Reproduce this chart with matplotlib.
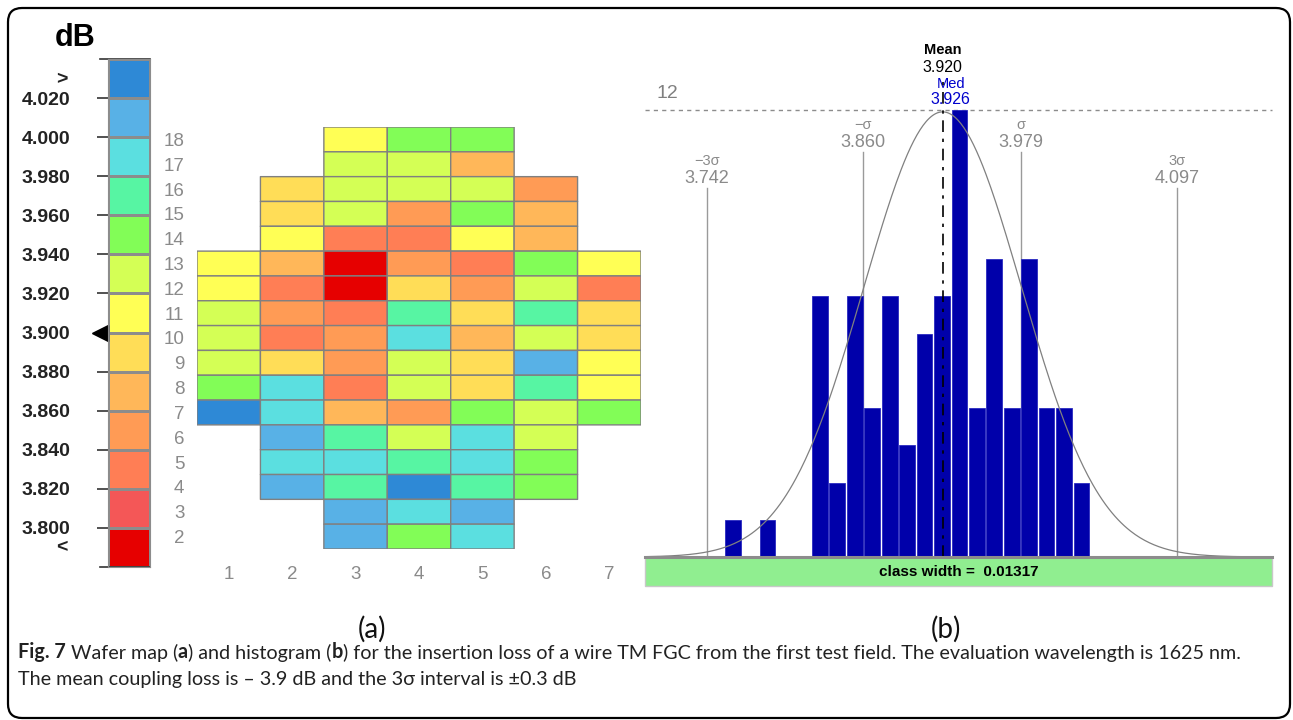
import numpy as np
import matplotlib
matplotlib.use("Agg")
import matplotlib.pyplot as plt
from matplotlib.colors import ListedColormap, BoundaryNorm
from matplotlib.patches import Rectangle, FancyBboxPatch
from matplotlib.transforms import IdentityTransform, blended_transform_factory

plt.rcParams['font.family'] = ['Liberation Sans', 'DejaVu Sans']

W, H = 1293, 720

# colour classes of the wafer map, low loss value -> high
class_colors = ['#e60000', '#f45757', '#ff7e55', '#ff9b55', '#ffb759', '#ffdd57',
                '#ffff55', '#d4ff55', '#82fd57', '#57f5a3', '#5bdfe0', '#58b1e6', '#2e89d6']
class_bounds = [3.70, 3.80, 3.82, 3.84, 3.86, 3.88, 3.90, 3.92, 3.94, 3.96, 3.98, 4.00, 4.02, 4.20]
cbar_labels = ['3.800', '3.820', '3.840', '3.860', '3.880', '3.900',
               '3.920', '3.940', '3.960', '3.980', '4.000', '4.020']

# wafer map insertion loss (dB), rows 18 (top) .. 2 (bottom), columns 1..7
N = np.nan
wafer_rows = list(range(18, 1, -1))
wafer_cols = [1, 2, 3, 4, 5, 6, 7]
wafer_vals = [
    [N, N, 3.912, 3.951, 3.948, N, N],
    [N, N, 3.931, 3.928, 3.872, N, N],
    [N, 3.893, 3.934, 3.927, 3.936, 3.852, N],
    [N, 3.886, 3.925, 3.849, 3.954, 3.874, N],
    [N, 3.908, 3.833, 3.828, 3.914, 3.868, N],
    [3.905, 3.866, 3.788, 3.846, 3.835, 3.957, 3.917],
    [3.911, 3.831, 3.783, 3.887, 3.851, 3.938, 3.826],
    [3.929, 3.847, 3.836, 3.972, 3.884, 3.968, 3.889],
    [3.933, 3.824, 3.855, 3.991, 3.871, 3.935, 3.893],
    [3.926, 3.895, 3.842, 3.932, 3.882, 4.012, 3.903],
    [3.958, 3.986, 3.838, 3.924, 3.898, 3.975, 3.915],
    [4.027, 3.994, 3.864, 3.853, 3.945, 3.937, 3.952],
    [N, 4.006, 3.966, 3.939, 3.983, 3.921, N],
    [N, 3.988, 3.996, 3.962, 3.981, 3.943, N],
    [N, 4.004, 3.977, 4.035, 3.964, 3.956, N],
    [N, N, 4.015, 3.993, 4.008, N, N],
    [N, N, 4.017, 3.947, 3.985, N, N],
]

# histogram
bin_start = 3.7555
class_width = 0.01317
counts = [1, 0, 1, 0, 0, 7, 2, 7, 4, 7, 3, 6, 7, 12, 4, 8, 4, 8, 4, 4, 2]
mean_val, med_val = 3.920, 3.926
sigma_names = ['\u22123\u03c3', '\u2212\u03c3', '\u03c3', '3\u03c3']
sigma_vals = [3.742, 3.860, 3.979, 4.097]
sigma_txt = ['3.742', '3.860', '3.979', '4.097']

caption1 = [("Fig. 7", 'bold'), (" Wafer map (", 'normal'), ("a", 'bold'),
            (") and histogram (", 'normal'), ("b", 'bold'),
            (") for the insertion loss of a wire TM FGC from the first test field. "
             "The evaluation wavelength is 1625 nm.", 'normal')]
caption2 = [("The mean coupling loss is \u2013 3.9 dB and the 3\u03c3 interval is \u00b10.3 dB",
             'normal')]


def px_axes(x0, y0, x1, y1):
    # pixel box (top-left origin) -> figure axes
    return fig.add_axes([x0 / W, 1 - y1 / H, (x1 - x0) / W, (y1 - y0) / H])


fig = plt.figure(figsize=(W / 100, H / 100), dpi=100)
cmap = ListedColormap(class_colors)
norm = BoundaryNorm(class_bounds, cmap.N)

# ---- colour bar
cax = px_axes(108, 59, 150, 567)
cax.pcolormesh([0, 1], np.arange(14), np.arange(13).reshape(-1, 1), cmap=cmap,
               vmin=-0.5, vmax=12.5, edgecolors='#8c8c8c', linewidth=1)
cax.set_xlim(0, 1)
cax.set_ylim(0, 13)
cax.set_xticks([])
cax.set_yticks(range(1, 13))
cax.set_yticklabels(cbar_labels, fontsize=14, fontweight='bold', color='#222222')
cax.tick_params(axis='y', length=8, width=1.2, color='#333333', pad=19)
for s in cax.spines.values():
    s.set_color('#8c8c8c')
tr = blended_transform_factory(cax.transAxes, cax.transData)
cax.plot([-0.2, 1.0], [0, 0], color='#333333', lw=1.2, transform=tr, clip_on=False)
cax.plot([-0.2, 1.0], [13, 13], color='#333333', lw=1.2, transform=tr, clip_on=False)
cax.plot([-0.2], [6], marker='<', ms=11, color='black', transform=tr, clip_on=False)
cax.text(-1.1, 12.46, '>', transform=tr, ha='center', va='center', fontsize=14,
         fontweight='bold', color='#222222')
cax.text(-1.1, 0.5, '<', transform=tr, ha='center', va='center', fontsize=14,
         fontweight='bold', color='#222222')
fig.text(75 / W, 1 - 38 / H, 'dB', ha='center', va='center', fontsize=22, fontweight='bold')

# ---- wafer map
wax = px_axes(197, 127, 641, 549)
grid = np.ma.masked_invalid(np.array(wafer_vals))
xe = np.arange(len(wafer_cols) + 1) + 0.5
ye = np.array(wafer_rows + [wafer_rows[-1] - 1]) + 0.5
wax.pcolor(xe, ye, grid, cmap=cmap, norm=norm, edgecolors='#808080', linewidth=1)
wax.set_xlim(0.5, 7.5)
wax.set_ylim(1.5, 18.5)
wax.set_xticks(wafer_cols)
wax.set_yticks(wafer_rows)
wax.tick_params(length=0, labelsize=13.5, labelcolor='#8a8a8a')
wax.tick_params(axis='x', pad=12)
wax.tick_params(axis='y', pad=9)
for s in wax.spines.values():
    s.set_visible(False)

# ---- histogram
hax = px_axes(645, 110, 1272, 557)
hax.set_xlim(3.742 - 62 / 1324, 3.742 + 565 / 1324)
hax.set_ylim(0, 12)
hax.axis('off')
lefts = [bin_start + i * class_width for i in range(len(counts))]
hax.bar(lefts, counts, width=class_width * 0.9, align='edge', color='#0000aa',
        edgecolor='#2a2ac0', linewidth=0.6, zorder=2)

# normal fit curve (scaled to the plot)
sig = (sigma_vals[2] - sigma_vals[1]) / 2
xs = np.linspace(*hax.get_xlim(), 400)
hax.plot(xs, 11.95 * np.exp(-0.5 * ((xs - mean_val) / sig) ** 2), color='#808080',
         lw=0.9, zorder=3)

hax.axhline(12, color='#8c8c8c', lw=1, ls=(0, (3, 3)), zorder=1, clip_on=False)
hax.text(3.704, 12.45, '12', ha='left', va='center', fontsize=14, color='#808080')

tops = [9.9, 10.87, 10.87, 9.9]
for name, v, txt, top in zip(sigma_names, sigma_vals, sigma_txt, tops):
    hax.plot([v, v], [0, top], color='#9a9a9a', lw=1, zorder=1)
    hax.text(v, top + 0.27, txt, ha='center', va='center', fontsize=13, color='#8a8a8a')
    hax.text(v, top + 0.73, name, ha='center', va='center', fontsize=10.5, color='#8a8a8a')

hax.plot([mean_val, mean_val], [0, 12.9], color='black', lw=1.2,
         ls=(0, (7, 4, 2, 4)), zorder=4, clip_on=False)
hax.text(mean_val, 13.6, 'Mean', ha='center', va='center', fontsize=10.5, fontweight='bold')
hax.text(mean_val, 13.13, '3.920', ha='center', va='center', fontsize=11.5)
hax.text(med_val, 12.7, 'Med', ha='center', va='center', fontsize=10.5, color='#0000cc')
hax.text(med_val, 12.27, '3.926', ha='center', va='center', fontsize=11.5, color='#0000cc')

hax.add_patch(Rectangle((0, -29 / 447), 1, 29 / 447, transform=hax.transAxes,
                        facecolor='#90ee90', edgecolor='#c8c8c8', lw=1, clip_on=False))
hax.plot([0, 1], [0, 0], color='#8c8c8c', lw=2.2, transform=hax.transAxes,
         clip_on=False, zorder=5)
hax.text(0.5, -15 / 447, 'class width =  0.01317', transform=hax.transAxes, ha='center',
         va='center', fontsize=11, fontweight='bold')

# ---- panel labels and caption
oax = fig.add_axes([0, 0, 1, 1])
oax.set_xlim(0, W)
oax.set_ylim(H, 0)
oax.axis('off')

cap_font = ['Lato', 'DejaVu Sans']
oax.text(372, 629, '(a)', ha='center', va='center', fontsize=20, family=cap_font,
         color='#111111')
oax.text(946, 629, '(b)', ha='center', va='center', fontsize=20, family=cap_font,
         color='#111111')

for pieces, ypx in ((caption1, 662), (caption2, 688)):
    prev = None
    for s, w in pieces:
        if prev is None:
            prev = oax.text(18, ypx, s, fontweight=w, va='bottom', ha='left',
                            fontsize=14.2, family=cap_font, color='#222222')
        else:
            prev = oax.annotate(s, xy=(1, 0), xycoords=prev, va='bottom', ha='left',
                                fontweight=w, fontsize=14.2, family=cap_font,
                                color='#222222')

box = FancyBboxPatch((8, 2), 1282, 710, boxstyle='round,pad=0,rounding_size=14',
                     transform=IdentityTransform(), facecolor='none', edgecolor='black',
                     lw=1.6)
fig.patches.append(box)

fig.savefig('out.png', dpi=100)
